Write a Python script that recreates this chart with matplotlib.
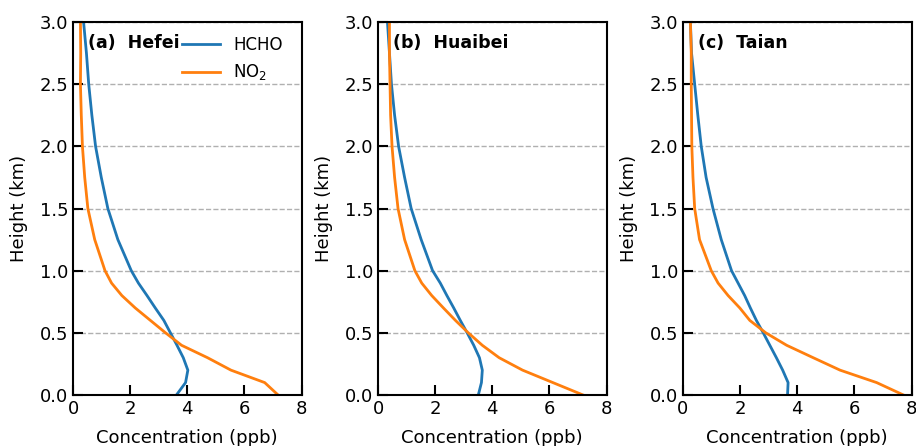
import matplotlib.pyplot as plt

# heights (km) of the retrieved profile levels
heights = [0, 0.1, 0.2, 0.3, 0.4, 0.5, 0.6, 0.7, 0.8, 0.9, 1.0,
           1.25, 1.5, 1.75, 2.0, 2.25, 2.5, 2.75, 3.0]

sites = ['(a)  Hefei', '(b)  Huaibei', '(c)  Taian']

# mean concentration profiles (ppb)
hcho_hefei = [3.62, 3.94, 4.02, 3.86, 3.64, 3.41, 3.18, 2.88, 2.59, 2.29, 2.04,
              1.57, 1.22, 0.99, 0.79, 0.66, 0.55, 0.47, 0.37]
no2_hefei = [7.18, 6.71, 5.53, 4.71, 3.80, 3.24, 2.71, 2.18, 1.71, 1.35, 1.12,
             0.76, 0.52, 0.41, 0.33, 0.29, 0.26, 0.27, 0.26]

hcho_huaibei = [3.51, 3.62, 3.65, 3.55, 3.35, 3.12, 2.88, 2.65, 2.41, 2.18, 1.91,
                1.51, 1.16, 0.93, 0.72, 0.58, 0.47, 0.40, 0.33]
no2_huaibei = [7.18, 6.12, 5.06, 4.24, 3.65, 3.16, 2.71, 2.29, 1.88, 1.53, 1.29,
               0.93, 0.70, 0.58, 0.49, 0.44, 0.42, 0.40, 0.40]

hcho_taian = [3.66, 3.68, 3.49, 3.27, 3.04, 2.81, 2.57, 2.36, 2.16, 1.93, 1.70,
              1.34, 1.05, 0.81, 0.64, 0.52, 0.41, 0.30, 0.26]
no2_taian = [7.72, 6.78, 5.50, 4.56, 3.63, 2.90, 2.34, 1.99, 1.58, 1.23, 0.99,
             0.58, 0.41, 0.35, 0.31, 0.30, 0.29, 0.29, 0.26]

hcho_all = [hcho_hefei, hcho_huaibei, hcho_taian]
no2_all = [no2_hefei, no2_huaibei, no2_taian]

fig = plt.figure(figsize=(9.16, 4.46), dpi=100)
lefts = [0.0797, 0.4127, 0.7456]

for i in range(3):
    ax = fig.add_axes([lefts[i], 0.1143, 0.2495, 0.8364])
    ax.plot(hcho_all[i], heights, color='#1f77b4', lw=2, label='HCHO')
    ax.plot(no2_all[i], heights, color='#ff7f0e', lw=2, label='NO$_2$')
    ax.set_xlim(0, 8)
    ax.set_ylim(0, 3)
    ax.set_xticks([0, 2, 4, 6, 8])
    ax.set_yticks([0, 0.5, 1.0, 1.5, 2.0, 2.5, 3.0])
    ax.yaxis.grid(True, linestyle='--', color='#b0b0b0', lw=1)
    ax.tick_params(direction='in', length=7, width=1.5, labelsize=13)
    for sp in ax.spines.values():
        sp.set_linewidth(1.5)
    ax.set_xlabel('Concentration (ppb)', fontsize=13, labelpad=8)
    ax.set_ylabel('Height (km)', fontsize=13, labelpad=8)
    ax.text(0.065, 0.945, sites[i], transform=ax.transAxes, fontsize=12.5,
            fontweight='bold', va='center', ha='left')
    if i == 0:
        ax.legend(loc='upper left', bbox_to_anchor=(0.476, 0.962), frameon=False,
                  fontsize=12, handlelength=2.3, handletextpad=0.8,
                  borderaxespad=0, borderpad=0, labelspacing=0.5)

fig.savefig('out.png', dpi=100)
